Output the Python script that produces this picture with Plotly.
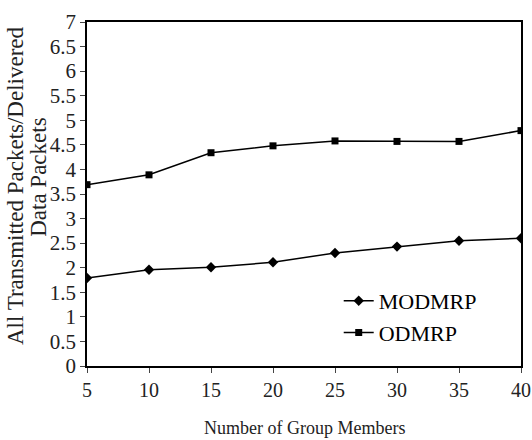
import plotly.graph_objects as go

group_members = [5, 10, 15, 20, 25, 30, 35, 40]
modmrp = [1.79, 1.96, 2.01, 2.11, 2.30, 2.43, 2.55, 2.60]
odmrp = [3.69, 3.89, 4.34, 4.48, 4.58, 4.57, 4.57, 4.79]
y_ticks = [i * 0.5 for i in range(15)]
y_tick_text = ["0", "0.5", "1", "1.5", "2", "2.5", "3", "3.5", "4", "4.5",
               "5", "5.5", "6", "6.5", "7"]
y_title_lines = ["All Transmitted Packets/Delivered", "Data Packets"]
x_title = "Number of Group Members"

font_family = "Liberation Serif, Times New Roman, serif"
plot_w = 532 - 87 - 11

fig = go.Figure()
fig.add_trace(go.Scatter(
    x=group_members, y=modmrp, name="MODMRP", mode="lines+markers",
    line=dict(color="black", width=1.5),
    marker=dict(symbol="diamond", size=8, color="black"),
))
fig.add_trace(go.Scatter(
    x=group_members, y=odmrp, name="ODMRP", mode="lines+markers",
    line=dict(color="black", width=1.5),
    marker=dict(symbol="square", size=7, color="black"),
))

# y-axis title as two rotated lines, x-axis title below the tick labels
fig.add_annotation(text=y_title_lines[0], xref="paper", yref="paper",
                   x=(15 - 87) / plot_w, y=0.523, xanchor="center", yanchor="middle",
                   textangle=-90, showarrow=False,
                   font=dict(size=23, color="#222222"))
fig.add_annotation(text=y_title_lines[1], xref="paper", yref="paper",
                   x=(39 - 87) / plot_w, y=0.547, xanchor="center", yanchor="middle",
                   textangle=-90, showarrow=False,
                   font=dict(size=23, color="#222222"))
fig.add_annotation(text=x_title, xref="paper", yref="paper",
                   x=0.5, y=-62 / 344, xanchor="center", yanchor="middle",
                   showarrow=False, font=dict(size=18, color="#222222"))

fig.update_layout(
    width=532, height=440,
    margin=dict(l=87, r=11, t=22, b=74),
    paper_bgcolor="white", plot_bgcolor="white",
    font=dict(family=font_family, color="black", size=16),
    showlegend=True,
    legend=dict(x=0.58, y=0.25, xanchor="left", yanchor="top",
                bgcolor="rgba(0,0,0,0)", font=dict(size=22),
                itemwidth=30, tracegroupgap=0),
    xaxis=dict(
        range=[5, 40], tickvals=group_members, ticks="outside", ticklen=5,
        showline=True, linecolor="black", linewidth=1.5, mirror=True,
        showgrid=False, zeroline=False, automargin=False,
        ticklabeloverflow="allow",
        tickfont=dict(size=20, color="#222222"),
    ),
    yaxis=dict(
        range=[0, 7], tickvals=y_ticks, ticktext=y_tick_text, ticks="outside", ticklen=5,
        showline=True, linecolor="black", linewidth=1.5, mirror=True,
        showgrid=False, zeroline=False, automargin=False,
        tickfont=dict(size=21, color="#222222"),
    ),
)

fig.write_html("out.html")
